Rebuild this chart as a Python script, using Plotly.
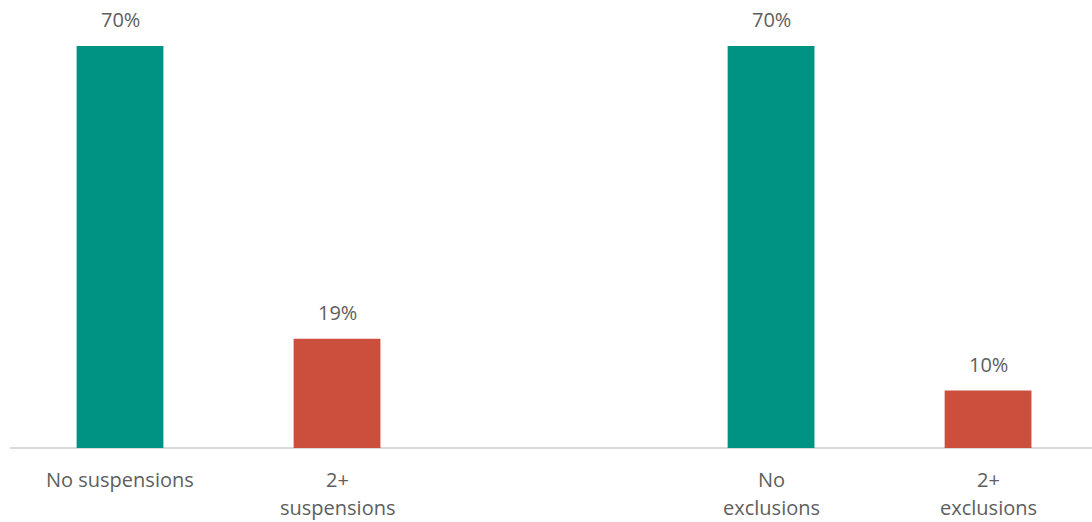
import plotly.graph_objects as go

# Category labels (blank slot separates the two groups)
categories = ["No suspensions", "2+<br>suspensions", "", "No<br>exclusions", "2+<br>exclusions"]
positions = [0, 1, 2, 3, 4]
values = [70, 19, None, 70, 10]
value_labels = ["70%", "19%", "", "70%", "10%"]
bar_colors = ["#009384", "#CC4E3C", "#FFFFFF", "#009384", "#CC4E3C"]

TEXT_COLOR = "#5E5E5E"
FONT = "Open Sans"

xs = [p for p, v in zip(positions, values) if v is not None]
ys = [v for v in values if v is not None]
cols = [c for c, v in zip(bar_colors, values) if v is not None]

fig = go.Figure()
fig.add_trace(go.Bar(
    x=xs, y=ys, width=0.4,
    marker=dict(color=cols, line=dict(width=0)),
    hoverinfo="skip",
))

annotations = []
# value labels above bars
for p, v, t in zip(positions, values, value_labels):
    if v is None:
        continue
    annotations.append(dict(
        x=p, y=v, xref="x", yref="y", text=t, showarrow=False,
        yanchor="middle", yshift=26,
        font=dict(family=FONT, size=20, color=TEXT_COLOR),
    ))
# category labels under the axis, one annotation per line
for p, c in zip(positions, categories):
    if not c:
        continue
    for i, line in enumerate(c.split("<br>")):
        annotations.append(dict(
            x=p, y=0, xref="x", yref="y", text=line, showarrow=False,
            yanchor="middle", yshift=-31 - 28 * i,
            font=dict(family=FONT, size=20, color=TEXT_COLOR),
        ))

fig.update_layout(
    width=1092, height=522,
    margin=dict(l=10, r=0, t=0, b=74),
    paper_bgcolor="white", plot_bgcolor="white",
    showlegend=False,
    annotations=annotations,
    xaxis=dict(
        range=[-0.507, 4.479], showticklabels=False, ticks="",
        showgrid=False, zeroline=False, showline=False, fixedrange=True,
    ),
    yaxis=dict(
        range=[0, 78], showticklabels=False, ticks="", showgrid=False,
        zeroline=True, zerolinecolor="#D9D9D9", zerolinewidth=2,
        showline=False, fixedrange=True,
    ),
)

fig.write_html("out.html")
